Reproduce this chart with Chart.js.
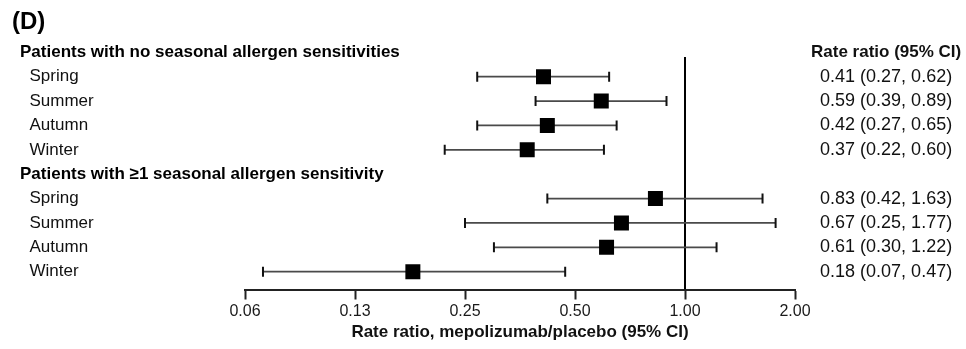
<!DOCTYPE html>
<html>
<head>
<meta charset="utf-8">
<script src="https://cdn.jsdelivr.net/npm/chart.js@4.4.1/dist/chart.umd.min.js"></script>
<style>
  html, body { margin: 0; padding: 0; background: #fff; }
  #wrap { width: 966px; height: 349px; position: relative; }
</style>
</head>
<body>
<div id="wrap"><canvas id="forestChart"></canvas></div>
<script>
// groups and seasons
const groupTitles = [
  "Patients with no seasonal allergen sensitivities",
  "Patients with \u22651 seasonal allergen sensitivity"
];
const seasons = ["Spring", "Summer", "Autumn", "Winter"];

// rate ratio, mepolizumab/placebo, with 95% CI
const noSensRate = [0.41, 0.59, 0.42, 0.37];
const noSensLow = [0.27, 0.39, 0.27, 0.22];
const noSensHigh = [0.62, 0.89, 0.65, 0.60];

const sensRate = [0.83, 0.67, 0.61, 0.18];
const sensLow = [0.42, 0.25, 0.30, 0.07];
const sensHigh = [1.63, 1.77, 1.22, 0.47];

// x axis
const tickValues = [0.0625, 0.125, 0.25, 0.5, 1, 2];
const tickLabels = ["0.06", "0.13", "0.25", "0.50", "1.00", "2.00"];

const FONT = "'Liberation Sans', Arial, Helvetica, sans-serif";

// build the rows: header, 4 seasons, header, 4 seasons
const leftLabels = [];
const rightLabels = [];
const rows = []; // {y, rate, low, high}
const headerRows = [];
[[noSensRate, noSensLow, noSensHigh], [sensRate, sensLow, sensHigh]].forEach((g, gi) => {
  headerRows.push(leftLabels.length);
  leftLabels.push(groupTitles[gi]);
  rightLabels.push(gi === 0 ? "Rate ratio (95% CI)" : "");
  seasons.forEach((s, i) => {
    const y = leftLabels.length;
    leftLabels.push(s);
    rightLabels.push(g[0][i].toFixed(2) + " (" + g[1][i].toFixed(2) + ", " + g[2][i].toFixed(2) + ")");
    rows.push({ y: y, rate: g[0][i], low: g[1][i], high: g[2][i] });
  });
});

const yMin = -0.505;
const yMax = 9.73;

const datasets = [];

// reference line at 1
datasets.push({
  data: [{ x: 1, y: 0.19 }, { x: 1, y: yMax }],
  showLine: true,
  borderColor: "#000",
  borderWidth: 2,
  pointRadius: 0,
  order: 3
});

// confidence intervals with end caps
rows.forEach((r) => {
  datasets.push({
    data: [{ x: r.low, y: r.y }, { x: r.high, y: r.y }],
    showLine: true,
    borderColor: "#4a4a4a",
    borderWidth: 1.8,
    pointStyle: "line",
    pointRotation: 90,
    pointRadius: 5,
    pointBorderWidth: 2,
    pointBorderColor: "#111",
    pointHoverRadius: 5,
    order: 2
  });
});

// point estimates
datasets.push({
  data: rows.map((r) => ({ x: r.rate, y: r.y })),
  showLine: false,
  pointStyle: "rect",
  pointRadius: 10.6,
  pointHoverRadius: 10.6,
  pointBackgroundColor: "#000",
  pointBorderWidth: 0,
  order: 1
});

const rowTicks = (scale) => {
  scale.ticks = leftLabels.map((_, i) => ({ value: i }));
};

// panel letter and the left-hand row labels (they run past the axis box)
const sideText = {
  id: "sideText",
  afterDraw(chart) {
    const ctx = chart.ctx;
    const yScale = chart.scales.y;
    ctx.save();
    ctx.fillStyle = "#000";
    ctx.textAlign = "left";
    ctx.textBaseline = "alphabetic";
    ctx.font = "bold 24px " + FONT;
    ctx.fillText("(D)", 12, 29);
    ctx.textBaseline = "middle";
    leftLabels.forEach((label, i) => {
      const isHeader = headerRows.includes(i);
      ctx.font = (isHeader ? "bold " : "") + "17px " + FONT;
      ctx.fillStyle = isHeader ? "#000" : "#111";
      ctx.fillText(label, isHeader ? 20 : 29.5, yScale.getPixelForValue(i));
    });
    ctx.restore();
  }
};

const ctx = document.getElementById("forestChart").getContext("2d");
const myChart = new Chart(ctx, {
  type: "scatter",
  data: { datasets: datasets },
  plugins: [sideText],
  options: {
    responsive: true,
    maintainAspectRatio: false,
    animation: false,
    layout: { padding: { left: 20, right: 0, top: 40, bottom: 0 } },
    plugins: {
      legend: { display: false },
      tooltip: { enabled: false },
      title: { display: false }
    },
    scales: {
      x: {
        type: "logarithmic",
        position: "bottom",
        min: 0.0625,
        max: 2,
        bounds: "data",
        afterBuildTicks: (scale) => {
          scale.ticks = tickValues.map((v) => ({ value: v }));
        },
        afterFit: (scale) => { scale.height = 59.5; },
        grid: {
          display: true,
          drawOnChartArea: false,
          drawTicks: true,
          tickLength: 10,
          tickWidth: 2,
          tickColor: "#222"
        },
        border: { display: true, color: "#222", width: 2 },
        ticks: {
          autoSkip: false,
          maxRotation: 0,
          padding: 2,
          color: "#1a1a1a",
          font: { family: FONT, size: 16 },
          callback: (value, index) => tickLabels[index]
        },
        title: {
          display: true,
          text: "Rate ratio, mepolizumab/placebo (95% CI)",
          color: "#111",
          font: { family: FONT, size: 17, weight: "bold" },
          padding: { top: 0, bottom: 6 }
        }
      },
      y: {
        type: "linear",
        position: "left",
        reverse: true,
        min: yMin,
        max: yMax,
        bounds: "data",
        afterBuildTicks: rowTicks,
        afterFit: (scale) => { scale.width = 225; },
        grid: { display: false, drawTicks: false },
        border: { display: false },
        ticks: { display: false }
      },
      yRight: {
        type: "linear",
        position: "right",
        reverse: true,
        min: yMin,
        max: yMax,
        bounds: "data",
        afterBuildTicks: rowTicks,
        afterFit: (scale) => { scale.width = 171; },
        grid: { display: false, drawTicks: false },
        border: { display: false },
        ticks: {
          autoSkip: false,
          crossAlign: "center",
          padding: 16,
          color: "#111",
          font: (c) => ({
            family: FONT,
            size: c.tick && c.tick.value === 0 ? 17 : 18,
            weight: c.tick && c.tick.value === 0 ? "bold" : "normal"
          }),
          callback: (value) => rightLabels[value]
        }
      }
    }
  }
});
</script>
</body>
</html>
